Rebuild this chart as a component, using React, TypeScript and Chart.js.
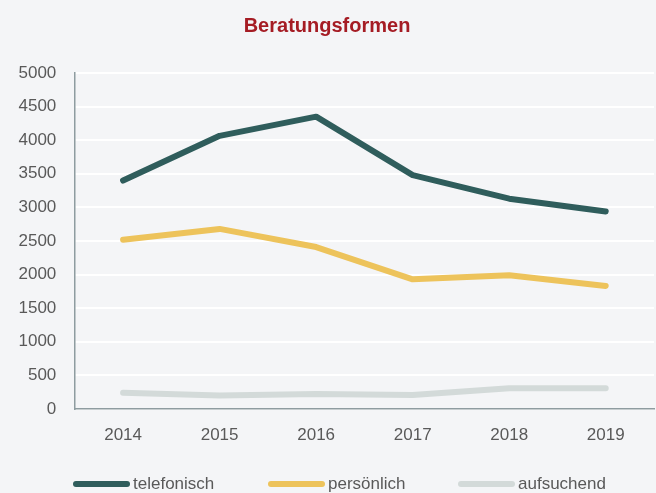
import React, { useEffect, useRef } from "react";
import { Chart, registerables } from "chart.js";

Chart.register(...registerables);

const years = ["2014", "2015", "2016", "2017", "2018", "2019"];
const telefonisch = [3400, 4065, 4350, 3480, 3130, 2940];
const persoenlich = [2520, 2680, 2410, 1930, 1990, 1830];
const aufsuchend = [240, 200, 225, 210, 310, 310];
const seriesNames = ["telefonisch", "persönlich", "aufsuchend"];
const seriesColors = ["#2F5D5C", "#EDC35B", "#D3DAD9"];

const FONT = "'Liberation Sans Narrow', 'Arial Narrow', 'Liberation Sans', Arial, sans-serif";

// legend layout (positions of the legend entries, in canvas pixels)
const legendX = [76, 271, 461];
const legendLineLen = 51;
const legendY = 484;

const bottomLegend = {
  id: "bottomLegend",
  afterDraw(chart: any) {
    const ctx = chart.ctx;
    ctx.save();
    chart.data.datasets.forEach((ds: any, i: number) => {
      const x = legendX[i];
      ctx.beginPath();
      ctx.lineWidth = 6;
      ctx.lineCap = "round";
      ctx.strokeStyle = ds.borderColor;
      ctx.moveTo(x, legendY);
      ctx.lineTo(x + legendLineLen, legendY);
      ctx.stroke();
      ctx.font = `17px ${FONT}`;
      ctx.fillStyle = "#595959";
      ctx.textBaseline = "middle";
      ctx.textAlign = "left";
      ctx.fillText(ds.label, x + legendLineLen + 6, legendY);
    });
    ctx.restore();
  },
};

export default function App() {
  const ref = useRef<HTMLCanvasElement>(null);
  useEffect(() => {
    document.body.style.margin = "0";
    document.body.style.background = "#F4F5F7";
    const values = [telefonisch, persoenlich, aufsuchend];
    const chart = new Chart(ref.current!, {
      type: "line",
      data: {
        labels: years,
        datasets: values.map((v, i) => ({
          label: seriesNames[i],
          data: v,
          borderColor: seriesColors[i],
          backgroundColor: seriesColors[i],
          borderWidth: 6,
          borderCapStyle: "round" as const,
          borderJoinStyle: "round" as const,
          pointRadius: 0,
          pointHoverRadius: 0,
          tension: 0,
        })),
      },
      options: {
        responsive: false,
        animation: false,
        layout: { padding: { left: 0, right: 2, top: 8, bottom: 31.6 } },
        plugins: {
          title: {
            display: true,
            text: "Beratungsformen",
            color: "#A51C24",
            font: { family: FONT, size: 20, weight: "bold" },
            padding: { top: 6, bottom: 35 },
          },
          legend: { display: false },
          tooltip: { enabled: false },
        },
        scales: {
          x: {
            offset: true,
            grid: { display: false, drawTicks: false },
            border: { display: true, color: "#8E9CA0", width: 1.5 },
            ticks: { color: "#595959", font: { family: FONT, size: 17 }, padding: 16 },
          },
          y: {
            min: 0,
            max: 5000,
            ticks: {
              stepSize: 500,
              color: "#595959",
              font: { family: FONT, size: 17 },
              padding: 18.5,
              callback: (v: any) => String(v),
            },
            grid: { color: "#FFFFFF", lineWidth: 2, drawTicks: false },
            border: { display: true, color: "#8E9CA0", width: 1.5 },
          },
        },
      },
      plugins: [bottomLegend],
    });
    return () => chart.destroy();
  }, []);
  return (
    <div style={{ width: 656, height: 493, background: "#F4F5F7" }}>
      <canvas ref={ref} width={656} height={493} />
    </div>
  );
}
